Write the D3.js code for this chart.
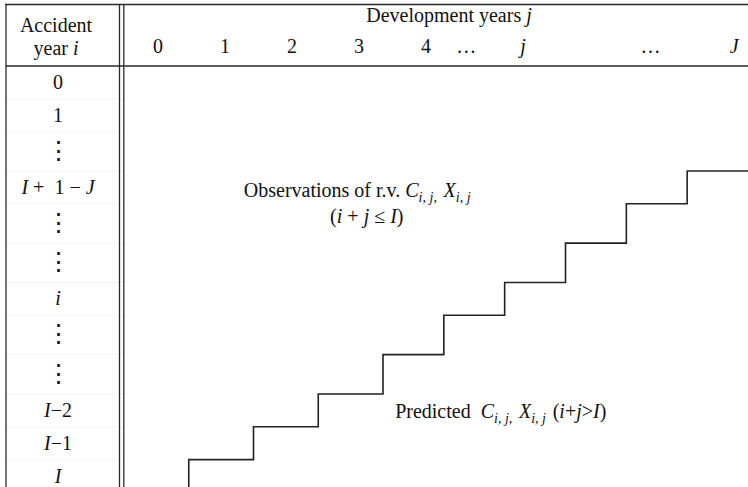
<!DOCTYPE html>
<html lang="en">
<head>
    <meta charset="UTF-8">
    <title>Claims development triangle</title>
    <script src="https://cdnjs.cloudflare.com/ajax/libs/d3/7.8.5/d3.min.js"></script>
    <style>
        body { margin: 0; background: #fff; }
        text { font-family: "Liberation Serif", "Times New Roman", serif; fill: #111; white-space: pre; }
    </style>
</head>
<body>
<script>
    // accident years (rows), top to bottom
    var rowLabels = ["0", "1", "⋮", "I +  1 − J", "⋮", "⋮", "i", "⋮", "⋮", "I−2", "I−1", "I"];
    // last development column observed for each accident year
    var lastObserved = [10, 10, 10, 9, 8, 7, 6, 5, 4, 3, 2, 1];
    // development year headings and their slot along the header
    var devLabels = ["0", "1", "2", "3", "4", "…", "j", "…", "J"];
    var devSlots = [0, 1, 2, 3, 4, 4.6, 5.45, 7.35, 8.6];

    var W = 748, H = 487;
    var svg = d3.select("body").append("svg")
            .attr("width", W)
            .attr("height", H);

    // rows holding vertical dots are a little taller
    var weights = rowLabels.map(function(d) { return d === "⋮" ? 1.2 : 1; });
    var cum = [0];
    weights.forEach(function(w, i) { cum.push(cum[i] + w); });
    var y = d3.scaleLinear().domain([0, cum[cum.length - 1]]).range([66, 66 + cum[cum.length - 1] * 32.8]);
    function rowTop(i) { return y(cum[i]); }
    function rowMid(i) { return (y(cum[i]) + y(cum[i + 1])) / 2; }

    var x = d3.scaleLinear().domain([0, 4, 10]).range([124, 383, 748]);
    var xHead = d3.scaleLinear().domain([0, 1]).range([158, 225]);

    // write a math string, italic for the letters i, j, I, J
    function mathText(sel, s) {
        s.split("").forEach(function(ch) {
            sel.append("tspan")
                    .attr("font-style", /[ijIJ]/.test(ch) ? "italic" : null)
                    .text(ch);
        });
    }
    // C_{i,j} style symbol
    function sym(sel, base, sub, after) {
        sel.append("tspan").attr("font-style", "italic").text(base);
        sel.append("tspan").attr("font-style", "italic").attr("font-size", 14).attr("dy", 5).text(sub);
        sel.append("tspan").attr("font-size", 14).attr("dy", 0).text(after || "");
        sel.append("tspan").attr("dy", -5).text("\u200a");
    }

    // faint row rules in the accident year column
    svg.append("g").selectAll("line")
            .data(d3.range(1, rowLabels.length))
            .enter().append("line")
            .attr("x1", 6).attr("x2", 124)
            .attr("y1", function(i) { return rowTop(i); })
            .attr("y2", function(i) { return rowTop(i); })
            .attr("stroke", "#f4f4f4")
            .attr("stroke-width", 1);

    // frame
    var frame = svg.append("g").attr("stroke", "#2a2a2a").attr("stroke-width", 1.3).attr("fill", "none");
    frame.append("line").attr("x1", 5).attr("x2", W).attr("y1", 4.5).attr("y2", 4.5);
    frame.append("line").attr("x1", 6).attr("x2", 6).attr("y1", 4).attr("y2", H);
    frame.append("line").attr("x1", 119.5).attr("x2", 119.5).attr("y1", 4).attr("y2", H);
    frame.append("line").attr("x1", 123.8).attr("x2", 123.8).attr("y1", 4).attr("y2", H);
    frame.append("line").attr("x1", 6).attr("x2", W).attr("y1", 66).attr("y2", 66);

    // header
    svg.append("text").attr("x", 56).attr("y", 32).attr("text-anchor", "middle")
            .attr("font-size", 20).text("Accident");
    var yr = svg.append("text").attr("x", 56).attr("y", 55).attr("text-anchor", "middle").attr("font-size", 20);
    yr.append("tspan").text("year ");
    yr.append("tspan").attr("font-style", "italic").text("i");
    var dv = svg.append("text").attr("x", 449).attr("y", 22).attr("text-anchor", "middle").attr("font-size", 20);
    dv.append("tspan").text("Development years ");
    dv.append("tspan").attr("font-style", "italic").text("j");

    svg.append("g").selectAll("text")
            .data(devLabels)
            .enter().append("text")
            .attr("x", function(d, i) { return xHead(devSlots[i]); })
            .attr("y", 53)
            .attr("text-anchor", "middle")
            .attr("font-size", 20)
            .each(function(d) { mathText(d3.select(this), d); });

    // accident year labels
    svg.append("g").selectAll("text")
            .data(rowLabels)
            .enter().append("text")
            .attr("x", 58)
            .attr("y", function(d, i) { return rowMid(i); })
            .attr("dy", function(d) { return d === "⋮" ? "0.3em" : "0.33em"; })
            .attr("text-anchor", "middle")
            .attr("font-size", function(d) { return d === "⋮" ? 25 : 20; })
            .each(function(d) { mathText(d3.select(this), d); });

    // staircase between observed and predicted cells
    var pts = [];
    for (var r = 1; r < rowLabels.length; r++) {
        if (lastObserved[r] < lastObserved[r - 1]) {
            pts.push([x(lastObserved[r - 1]), rowTop(r)]);
            pts.push([x(lastObserved[r]), rowTop(r)]);
        }
    }
    var last = rowLabels.length - 1;
    pts.push([x(lastObserved[last]), rowTop(last + 1)]);
    svg.append("path")
            .attr("d", d3.line()(pts))
            .attr("fill", "none")
            .attr("stroke", "#222")
            .attr("stroke-width", 1.6);

    // annotations
    var obs = svg.append("text").attr("x", x(1.85)).attr("y", 197).attr("font-size", 20);
    obs.append("tspan").text("Observations of r.v. ");
    sym(obs, "C", "i, j", ",");
    obs.append("tspan").text(" ");
    sym(obs, "X", "i, j");
    var cond = svg.append("text").attr("x", x(3.75)).attr("y", 223).attr("text-anchor", "middle").attr("font-size", 20);
    mathText(cond, "(i + j ≤ I)");

    var pred = svg.append("text").attr("x", x(4.2)).attr("y", 418).attr("font-size", 20);
    pred.append("tspan").text("Predicted  ");
    sym(pred, "C", "i, j", ",");
    pred.append("tspan").text(" ");
    sym(pred, "X", "i, j");
    pred.append("tspan").text(" ");
    mathText(pred, "(i+j>I)");
</script>
</body>
</html>
